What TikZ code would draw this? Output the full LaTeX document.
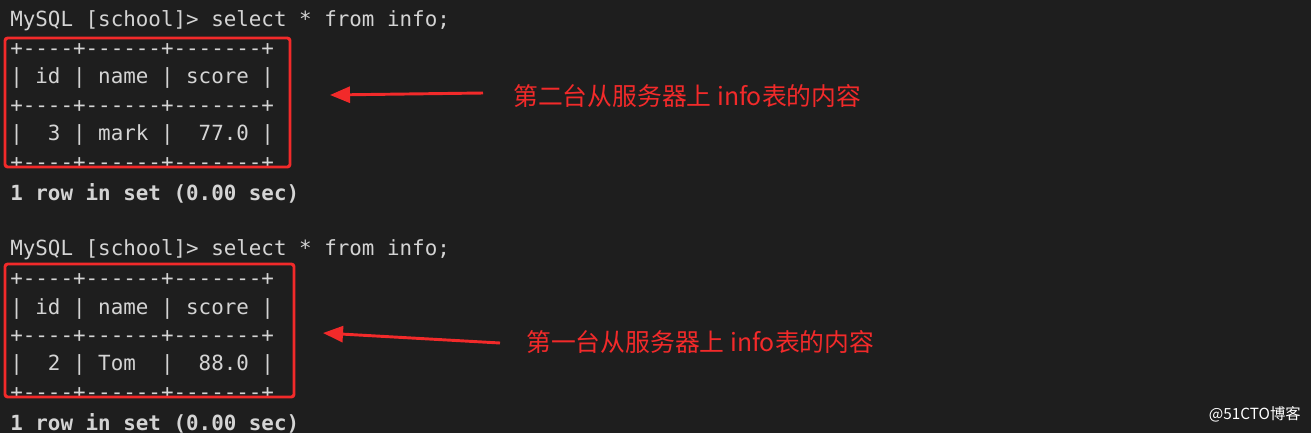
\documentclass[tikz,border=0pt]{standalone}
\usepackage{fontspec}
\setmonofont{DejaVu Sans Mono}
\newfontfamily\cjk{Noto Sans CJK SC}
\usetikzlibrary{arrows.meta}
\definecolor{bg}{HTML}{1E1E1E}
\definecolor{term}{HTML}{D4D4D4}
\definecolor{mark}{HTML}{F22A2A}
\tikzset{
  ln/.style={anchor=west,inner sep=0pt,text=term,font=\ttfamily\fontsize{15.65pt}{18pt}\selectfont},
  bl/.style={ln,font=\ttfamily\bfseries\fontsize{15.65pt}{18pt}\selectfont},
  frame/.style={draw=mark,line width=2.2pt,rounded corners=2pt},
  note/.style={anchor=west,inner sep=0pt,text=mark,font=\cjk\fontsize{18.6pt}{21pt}\selectfont},
  pointer/.style={draw=mark,line width=2.2pt,-{Triangle[length=15pt,width=12pt]}}
}
\begin{document}
\begin{tikzpicture}[x=0.75pt,y=-0.75pt]
\fill[bg] (0,0) rectangle (1311,433);
\useasboundingbox (0,0) rectangle (1311,433);
\node[ln] (q1) at (10,21) {MySQL [school]> select * from info;};
\node[ln] (a1) at (10,50) {+----+------+-------+};
\node[ln] (a2) at (10,78) {| id | name | score |};
\node[ln] (a3) at (10,107) {+----+------+-------+};
\node[ln] (a4) at (10,135) {|\ \ 3 | mark |\ \ 77.0 |};
\node[ln] (a5) at (10,164) {+----+------+-------+};
\node[bl] (r1) at (10,193) {1 row in set (0.00 sec)};
\node[ln] (q2) at (10,250) {MySQL [school]> select * from info;};
\node[ln] (b1) at (10,280) {+----+------+-------+};
\node[ln] (b2) at (10,309) {| id | name | score |};
\node[ln] (b3) at (10,337) {+----+------+-------+};
\node[ln] (b4) at (10,365) {|\ \ 2 | Tom\ \ |\ \ 88.0 |};
\node[ln] (b5) at (10,394) {+----+------+-------+};
\node[bl] (r2) at (10,423) {1 row in set (0.00 sec)};
\draw[frame] (5,38) rectangle (290,167);
\draw[frame] (5,264) rectangle (294,397);
\node[note] (n1) at (513,96) {第二台从服务器上 info表的内容};
\node[note] (n2) at (526,342) {第一台从服务器上 info表的内容};
\coordinate (t1) at (483,93);
\coordinate (h1) at (330,95);
\coordinate (t2) at (500,343);
\coordinate (h2) at (323,333);
\draw[pointer] (t1) -- (h1);
\draw[pointer] (t2) -- (h2);
\node[anchor=east,inner sep=0pt,text=white,font=\fontspec{Noto Sans CJK SC}\fontsize{11.5pt}{13pt}\selectfont] (wm) at (1301,414) {@51CTO博客};
\end{tikzpicture}
\end{document}
